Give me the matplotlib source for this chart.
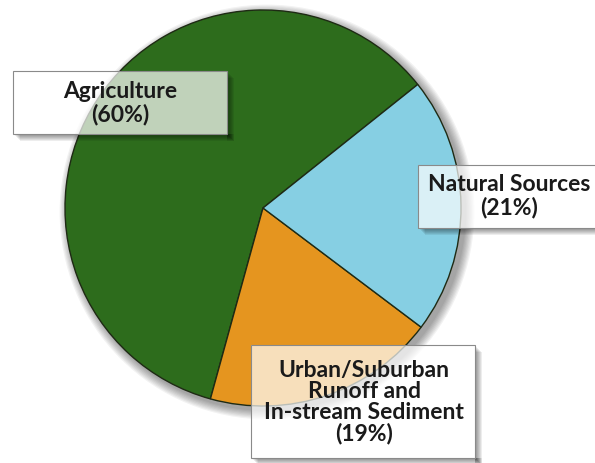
import matplotlib
matplotlib.use("Agg")
import matplotlib.pyplot as plt
from matplotlib.patches import Rectangle, Circle

# ---- data ----
categories = ["Agriculture", "Urban/Suburban\nRunoff and\nIn-stream Sediment", "Natural Sources"]
values = [60, 19, 21]
colors = ["#2d6c1c", "#e5951f", "#86cfe3"]

W, H = 595, 463
fig = plt.figure(figsize=(W / 100, H / 100), dpi=100)
ax = fig.add_axes([0, 0, 1, 1])

cx, cy, r = 263, H - 208, 198

# soft pie shadow
for i in range(8):
    ax.add_patch(Circle((cx + 4, cy - 4), r + 1 + i * 1.2, color="black",
                        alpha=0.05, lw=0, zorder=1))

ax.pie(values, colors=colors, startangle=38.6, counterclock=True,
       center=(cx, cy), radius=r, frame=True,
       wedgeprops=dict(edgecolor="#1e2a14", linewidth=1.0, zorder=2))
ax.set_xlim(0, W)
ax.set_ylim(0, H)
ax.set_aspect("equal")
ax.axis("off")

font = dict(family=["Lato", "DejaVu Sans"], weight="bold", color="#1a1a1a")

def box(x0, y0, x1, y1):
    # y given in pixel coords from top
    bx, by, bw, bh = x0, H - y1, x1 - x0, y1 - y0
    for i in range(6):
        d = 2 + i * 1.0
        # bottom strip
        ax.add_patch(Rectangle((bx + d, by - d), bw, d, color="black",
                               alpha=0.07, lw=0, zorder=3))
        # right strip
        ax.add_patch(Rectangle((bx + bw, by - d), d, bh, color="black",
                               alpha=0.07, lw=0, zorder=3))
    ax.add_patch(Rectangle((bx, by), bw, bh, facecolor="white", alpha=0.7,
                           edgecolor="none", zorder=4))
    ax.add_patch(Rectangle((bx, by), bw, bh, facecolor="none",
                           edgecolor="#8a8a8a", lw=0.8, zorder=5))

def label(i):
    return f"{categories[i]}\n({values[i]}%)"

# Agriculture
box(13, 71, 227, 134)
ax.text(120, H - 103, label(0), ha="center", va="center", fontsize=16.5,
        linespacing=1.08, zorder=6, **font)

# Natural Sources
box(418, 165, 600, 228)
ax.text(509, H - 196, label(2), ha="center", va="center", fontsize=16.5,
        linespacing=1.08, zorder=6, **font)

# Urban
box(251, 345, 475, 458)
ax.text(364, H - 402, label(1), ha="center", va="center", fontsize=16.5,
        linespacing=1.0, zorder=6, **font)

fig.savefig("out.png", dpi=100)
